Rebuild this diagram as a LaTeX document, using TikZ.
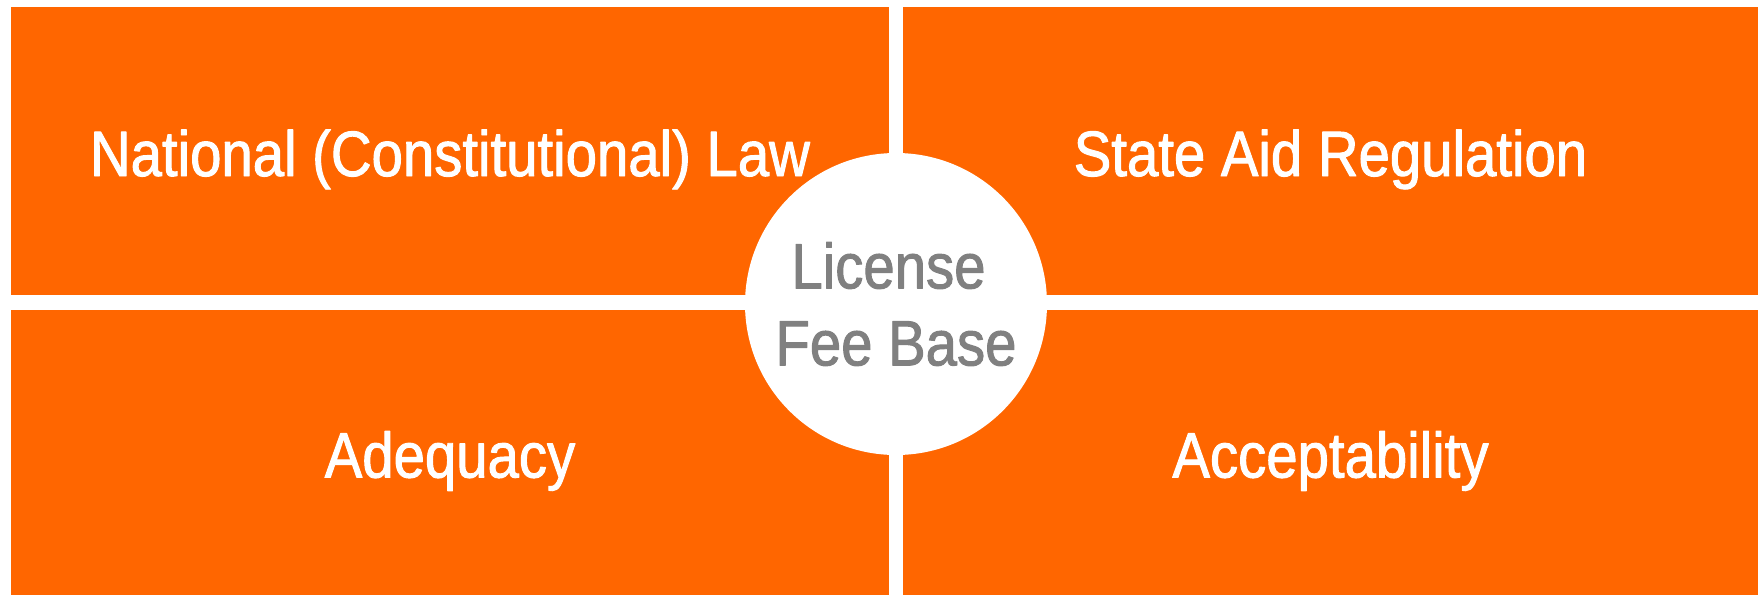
\documentclass[tikz,border=0pt]{standalone}
\usepackage{fontspec}
\setmainfont{Liberation Sans}[FakeStretch=0.88,FakeBold=1.5]
\definecolor{bborange}{HTML}{FF6600}
\definecolor{bbgray}{HTML}{808080}
\begin{document}
\begin{tikzpicture}[x=1pt,y=-1pt,line join=round,font=\fontsize{64}{77}\selectfont,
quad/.style={fill=bborange,text=white,inner sep=0pt,minimum width=878pt,minimum height=288pt,text height=50pt,text depth=0pt},
hub/.style={circle,fill=white,text=bbgray,inner sep=0pt,minimum size=302pt,align=center}]
\useasboundingbox (0,0) rectangle (1758,595);
\node[quad] (law) at (450,151) {National (Constitutional) Law};
\node[quad,minimum width=855pt] (aid) at (1330.5,151) {State Aid Regulation};
\node[quad,minimum height=285pt] (adeq) at (450,452.5) {Adequacy};
\node[quad,minimum width=855pt,minimum height=285pt] (accept) at (1330.5,452.5) {Acceptability};
\node[hub] (base) at (896,304) {License\kern15pt\\Fee Base};
\end{tikzpicture}
\end{document}
